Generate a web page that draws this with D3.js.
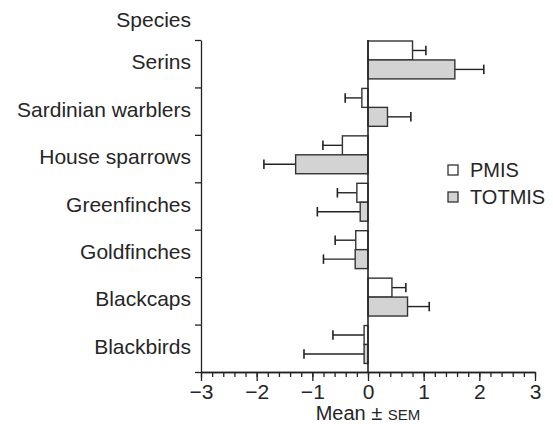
<!DOCTYPE html>
<html>
<head>
<meta charset="utf-8">
<script src="https://cdn.jsdelivr.net/npm/d3@7"></script>
<style>
  body { margin: 0; background: #fff; }
  text { font-family: "Liberation Sans", Arial, Helvetica, sans-serif; fill: #262626; }
  .axis path, .axis line { stroke: #222; stroke-width: 1.3; }
</style>
</head>
<body>
<script>
// categories, top to bottom
var species = ["Serins", "Sardinian warblers", "House sparrows", "Greenfinches", "Goldfinches", "Blackcaps", "Blackbirds"];
var series = ["PMIS", "TOTMIS"];
// means and SEMs
var pmisMean = [0.80, -0.11, -0.46, -0.20, -0.22, 0.43, -0.07];
var pmisSem = [0.24, 0.30, 0.35, 0.35, 0.37, 0.25, 0.56];
var totmisMean = [1.56, 0.35, -1.30, -0.14, -0.23, 0.71, -0.07];
var totmisSem = [0.52, 0.42, 0.57, 0.77, 0.57, 0.39, 1.08];
var xTicks = [-3, -2, -1, 0, 1, 2, 3];

var data = [];
species.forEach(function(s, i) {
    data.push({species: s, series: "PMIS", mean: pmisMean[i], sem: pmisSem[i]});
    data.push({species: s, series: "TOTMIS", mean: totmisMean[i], sem: totmisSem[i]});
});

var fills = {PMIS: "#ffffff", TOTMIS: "#d3d3d3"};

var width = 553, height = 424;
var plotTop = 40, plotBottom = 372, plotLeft = 201, plotRight = 535;

var svg = d3.select("body").append("svg")
    .attr("width", width)
    .attr("height", height);

var x = d3.scaleLinear().domain([-3, 3]).range([plotLeft, plotRight]);
var y = d3.scaleBand().domain(species).range([plotTop, plotBottom]);
var yEdge = d3.scaleLinear().domain([0, species.length]).range([plotTop, plotBottom]);
var sub = d3.scaleBand().domain(series).range([1, y.bandwidth() * 0.82]);

// x axis, minor ticks then major
svg.append("g").attr("class", "axis")
    .attr("transform", "translate(0," + plotBottom + ")")
    .call(d3.axisBottom(x).tickValues(d3.range(-3, 3.01, 0.2)).tickSize(5).tickFormat("").tickSizeOuter(0));
var xAxis = svg.append("g").attr("class", "axis")
    .attr("transform", "translate(0," + plotBottom + ")")
    .call(d3.axisBottom(x).tickValues(xTicks).tickSize(9).tickSizeOuter(0).tickPadding(2)
        .tickFormat(function(d) { return d < 0 ? "\u2212" + Math.abs(d) : d; }));
xAxis.selectAll("text").attr("font-size", 21).attr("dy", "0.76em").attr("font-family", null);

// y axis with ticks between categories
svg.append("g").attr("class", "axis")
    .attr("transform", "translate(" + plotLeft + ",0)")
    .call(d3.axisLeft(yEdge).ticks(species.length).tickSize(6).tickFormat("").tickSizeOuter(0));

svg.selectAll(".cat").data(species).enter().append("text")
    .attr("class", "cat")
    .attr("x", 191)
    .attr("y", function(d) { return y(d) + 22; })
    .attr("dy", "0.35em")
    .attr("text-anchor", "end")
    .attr("font-size", 21)
    .text(function(d) { return d; });

svg.append("text")
    .attr("x", 191).attr("y", 20).attr("dy", "0.35em")
    .attr("text-anchor", "end").attr("font-size", 21)
    .text("Species");

// error bars
function tip(d) { return d.mean + (d.mean < 0 ? -d.sem : d.sem); }
function midY(d) { return y(d.species) + sub(d.series) + sub.bandwidth() / 2; }
var eb = svg.selectAll(".eb").data(data).enter().append("g").attr("class", "eb");
eb.append("line")
    .attr("x1", function(d) { return x(d.mean); })
    .attr("x2", function(d) { return x(tip(d)); })
    .attr("y1", midY).attr("y2", midY)
    .attr("stroke", "#222").attr("stroke-width", 1.4);
eb.append("line")
    .attr("x1", function(d) { return x(tip(d)); })
    .attr("x2", function(d) { return x(tip(d)); })
    .attr("y1", function(d) { return midY(d) - sub.bandwidth() * 0.25; })
    .attr("y2", function(d) { return midY(d) + sub.bandwidth() * 0.25; })
    .attr("stroke", "#222").attr("stroke-width", 1.6);

// bars
svg.selectAll(".bar").data(data).enter().append("rect")
    .attr("class", "bar")
    .attr("x", function(d) { return x(Math.min(0, d.mean)); })
    .attr("width", function(d) { return Math.abs(x(d.mean) - x(0)); })
    .attr("y", function(d) { return y(d.species) + sub(d.series); })
    .attr("height", sub.bandwidth())
    .attr("fill", function(d) { return fills[d.series]; })
    .attr("stroke", "#333").attr("stroke-width", 1.4);

// zero line
svg.append("line")
    .attr("x1", x(0)).attr("x2", x(0))
    .attr("y1", plotTop).attr("y2", plotBottom)
    .attr("stroke", "#222").attr("stroke-width", 1.6);

// x axis title with small-caps SEM
var title = svg.append("text")
    .attr("x", x(0)).attr("y", 413).attr("dy", "0.35em")
    .attr("text-anchor", "middle").attr("font-size", 20);
title.append("tspan").text("Mean \u00b1 ");
title.append("tspan").attr("font-size", 15).text("SEM");

// legend
var legend = svg.selectAll(".leg").data(series).enter().append("g")
    .attr("class", "leg")
    .attr("transform", function(d, i) { return "translate(448," + (165 + i * 27) + ")"; });
legend.append("rect")
    .attr("width", 10).attr("height", 10)
    .attr("fill", function(d) { return fills[d]; })
    .attr("stroke", "#333").attr("stroke-width", 1.3);
legend.append("text")
    .attr("x", 22).attr("y", 5).attr("dy", "0.35em")
    .attr("font-size", 20)
    .text(function(d) { return d; });
</script>
</body>
</html>
